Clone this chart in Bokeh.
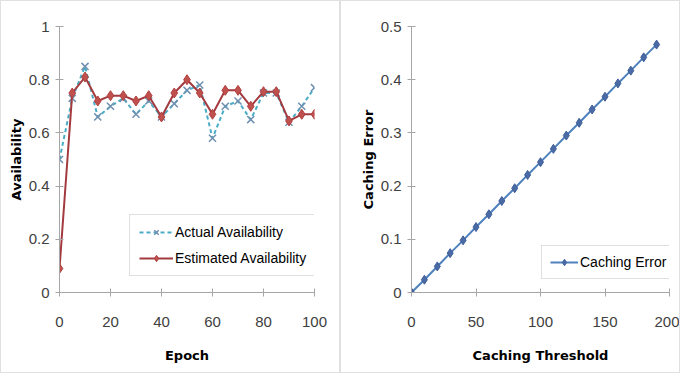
from bokeh.plotting import figure
from bokeh.layouts import row
from bokeh.models import Range1d, FixedTicker, Legend, LegendItem
from bokeh.embed import file_html
from bokeh.resources import INLINE

# ---- data: left chart ----
epoch = [0, 5, 10, 15, 20, 25, 30, 35, 40, 45, 50, 55, 60, 65, 70, 75, 80, 85, 90, 95, 100]
actual = [0.50, 0.73, 0.85, 0.66, 0.70, 0.73, 0.67, 0.72, 0.66, 0.71, 0.76, 0.78, 0.58, 0.70, 0.72, 0.65, 0.75, 0.75, 0.64, 0.70, 0.77]
estimated = [0.09, 0.75, 0.81, 0.72, 0.74, 0.74, 0.72, 0.74, 0.66, 0.75, 0.80, 0.75, 0.67, 0.76, 0.76, 0.70, 0.755, 0.755, 0.645, 0.67, 0.67]
left_xticks = [0, 20, 40, 60, 80, 100]
left_yticks = [0, 0.2, 0.4, 0.6, 0.8, 1.0]

# ---- data: right chart ----
threshold = [0, 10, 20, 30, 40, 50, 60, 70, 80, 90, 100, 110, 120, 130, 140, 150, 160, 170, 180, 190]
caching_error = [0.0, 0.024, 0.049, 0.074, 0.098, 0.123, 0.147, 0.172, 0.196, 0.221, 0.245, 0.270, 0.295, 0.319, 0.344, 0.368, 0.393, 0.417, 0.442, 0.466]
right_xticks = [0, 50, 100, 150, 200]
right_yticks = [0, 0.1, 0.2, 0.3, 0.4, 0.5]

TICK_FONT = "Liberation Sans"
TITLE_FONT = "DejaVu Sans"
AXIS_COLOR = "#a6a6a6"
TEXT_COLOR = "#404040"


def style(p, xticks, yticks, yfmt):
    p.outline_line_color = None
    p.xgrid.visible = False
    p.ygrid.visible = False
    p.xaxis.ticker = FixedTicker(ticks=xticks)
    p.yaxis.ticker = FixedTicker(ticks=yticks)
    p.yaxis.major_label_overrides = {t: yfmt(t) for t in yticks}
    for ax in (p.xaxis[0], p.yaxis[0]):
        ax.axis_line_color = AXIS_COLOR
        ax.major_tick_line_color = AXIS_COLOR
        ax.major_tick_in = 4
        ax.major_tick_out = 4
        ax.minor_tick_line_color = None
        ax.major_label_text_font = TICK_FONT
        ax.major_label_text_font_size = "15px"
        ax.major_label_text_color = TEXT_COLOR
        ax.axis_label_text_font = TITLE_FONT
        ax.axis_label_text_font_size = "13px"
        ax.axis_label_text_font_style = "bold"
        ax.axis_label_text_color = "#000000"
    p.xaxis.major_label_standoff = 20
    p.xaxis.axis_label_standoff = 18
    p.yaxis.major_label_standoff = 6
    p.yaxis.axis_label_standoff = 2
    p.styles = {"border": "1px solid #e0e0e0", "box-sizing": "border-box"}


def yfmt_left(t):
    return "0" if t == 0 else ("1" if t == 1 else f"{t:.1f}")


def yfmt_right(t):
    return "0" if t == 0 else f"{t:.1f}"


# ---- left figure ----
p1 = figure(width=340, height=373, output_backend="svg", toolbar_location=None,
            x_range=Range1d(0, 100), y_range=Range1d(0, 1),
            min_border_left=58, min_border_right=27, min_border_top=19, min_border_bottom=82)
p1.xaxis.axis_label = "Epoch"
p1.yaxis.axis_label = "Availability"
style(p1, left_xticks, left_yticks, yfmt_left)
p1.xaxis.major_label_overrides = {t: str(t) for t in left_xticks}

a_line = p1.line(epoch, actual, line_color="#4bacc6", line_width=2, line_dash="4 3")
a_pts = p1.scatter(epoch, actual, marker="x", size=10, line_color="#7090b0", line_width=1.5)
e_line = p1.line(epoch, estimated, line_color="#a33a3f", line_width=2)
e_pts = p1.scatter(epoch, estimated, marker="diamond", size=10, fill_color="#c0504d",
                   line_color="#b04040")

leg1 = Legend(items=[LegendItem(label="Actual Availability", renderers=[a_line, a_pts]),
                     LegendItem(label="Estimated Availability", renderers=[e_line, e_pts])],
              location=(70, 16), border_line_color="#bfbfbf", background_fill_alpha=1,
              label_text_font=TICK_FONT, label_text_font_size="14px", label_text_color="#000000",
              glyph_width=34, glyph_height=16, spacing=10, padding=9, margin=0,
              label_standoff=2)
p1.add_layout(leg1, "center")

# ---- right figure ----
p2 = figure(width=340, height=373, output_backend="svg", toolbar_location=None,
            x_range=Range1d(0, 200), y_range=Range1d(0, 0.5),
            min_border_left=70, min_border_right=12, min_border_top=25, min_border_bottom=80)
p2.xaxis.axis_label = "Caching Threshold"
p2.yaxis.axis_label = "Caching Error"
style(p2, right_xticks, right_yticks, yfmt_right)
p2.xaxis.major_label_overrides = {t: str(t) for t in right_xticks}

c_line = p2.line(threshold, caching_error, line_color="#4f81bd", line_width=2)
c_pts = p2.scatter(threshold, caching_error, marker="diamond", size=9, fill_color="#4a6aa5",
                   line_color="#3f5f99")
leg2 = Legend(items=[LegendItem(label="Caching Error", renderers=[c_line, c_pts])],
              location=(130, 13), border_line_color="#bfbfbf", background_fill_alpha=1,
              label_text_font=TICK_FONT, label_text_font_size="14px", label_text_color="#000000",
              glyph_width=28, glyph_height=16, padding=8, margin=0, label_standoff=2)
p2.add_layout(leg2, "center")

layout = row(p1, p2)
open("out.html", "w").write(file_html(layout, INLINE))
